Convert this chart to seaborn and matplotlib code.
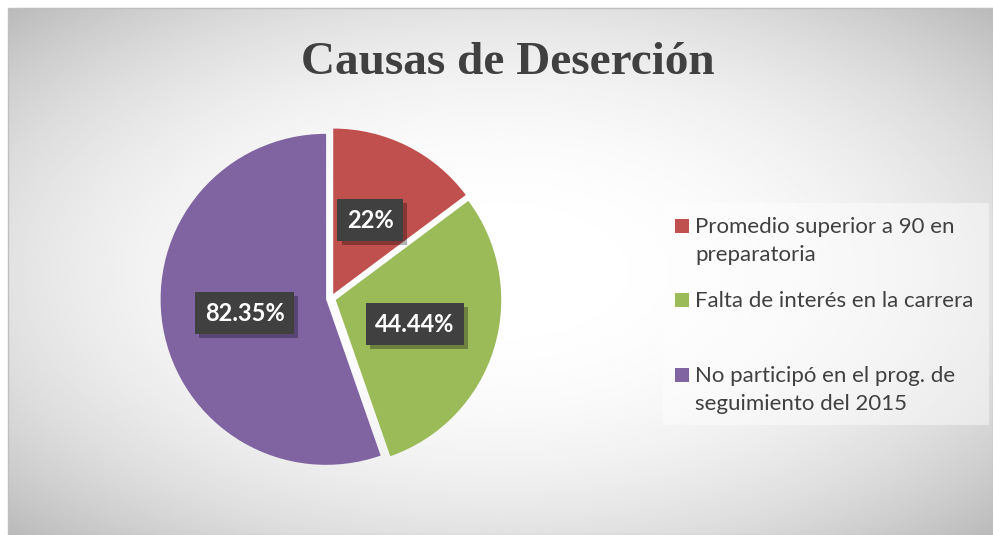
import numpy as np
import matplotlib.pyplot as plt
import matplotlib.patheffects as pe
from matplotlib.patches import Rectangle
import seaborn as sns

categories = ["Promedio superior a 90 en\npreparatoria",
              "Falta de interés en la carrera",
              "No participó en el prog. de\nseguimiento del 2015"]
values = [22, 44.44, 82.35]
value_labels = ["22%", "44.44%", "82.35%"]
colors = ["#C0504D", "#9BBB59", "#8064A2"]
title = "Causas de Deserción"

sns.set_theme(style="white")
plt.rcParams["font.family"] = ["Lato", "DejaVu Sans"]

W, H = 993, 535
fig = plt.figure(figsize=(W / 100, H / 100), dpi=100, facecolor="white")


def fx(px):
    return px / W


def fy(py):
    return 1 - py / H


# chart area with a radial grey gradient
bg = fig.add_axes([fx(8), 0, (W - 8) / W, (H - 8) / H])
yy, xx = np.mgrid[0:1:300j, 0:1:500j]
d = np.sqrt(((xx - 0.5) / 0.5) ** 2 + ((yy - 0.5) / 0.5) ** 2) / np.sqrt(2)
shade = 1 - 0.27 * d ** 2.5
bg.imshow(shade, cmap="gray", vmin=0, vmax=1, aspect="auto", extent=[0, 1, 0, 1])
bg.set_axis_off()
fig.add_artist(Rectangle((fx(8), 0), (W - 8) / W, (H - 8) / H, transform=fig.transFigure,
                         facecolor="none", edgecolor="#bfbfbf", linewidth=1))

fig.text(fx(508), fy(74), title, ha="center", va="baseline", fontsize=34,
         fontweight="bold", color="#404040", family=["Liberation Serif", "DejaVu Serif"])

# pie
R = 165.5
cx, cy = 331, 298.5
half = 1.1 * R
ax = fig.add_axes([fx(cx - half), fy(cy + half), 2 * half / W, 2 * half / H])
ax.patch.set_alpha(0)
wedges, _, autotexts = ax.pie(values, colors=colors, startangle=90, counterclock=False,
                              explode=[0.03] * len(values), autopct="%1.0f",
                              pctdistance=0.5, wedgeprops=dict(linewidth=0))
ax.set_xlim(-1.1, 1.1)
ax.set_ylim(-1.1, 1.1)

for t, lab in zip(autotexts, value_labels):
    t.set_text(lab)
    t.set_color("white")
    t.set_fontweight("bold")
    t.set_fontsize(17)
    t.set_bbox(dict(boxstyle="square,pad=0.4", facecolor="#404040", edgecolor="none"))
    t.get_bbox_patch().set_path_effects([
        pe.SimplePatchShadow(offset=(3, -3), shadow_rgbFace="black", alpha=0.3),
        pe.Normal()])

# legend
fig.add_artist(Rectangle((fx(663), fy(425)), (989 - 663) / W, (425 - 203) / H,
                         transform=fig.transFigure, facecolor="white", alpha=0.45,
                         edgecolor="none"))
first_line = [226, 300, 375]
for lab, col, y in zip(categories, colors, first_line):
    fig.add_artist(Rectangle((fx(675), fy(y + 7)), 14 / W, 14 / H,
                             transform=fig.transFigure, facecolor=col, edgecolor="none"))
    for k, line in enumerate(lab.split("\n")):
        fig.text(fx(695), fy(y + 7 + k * 27.5), line, ha="left", va="baseline",
                 fontsize=16, color="#404040")

fig.savefig("out.png", dpi=100, facecolor="white")
